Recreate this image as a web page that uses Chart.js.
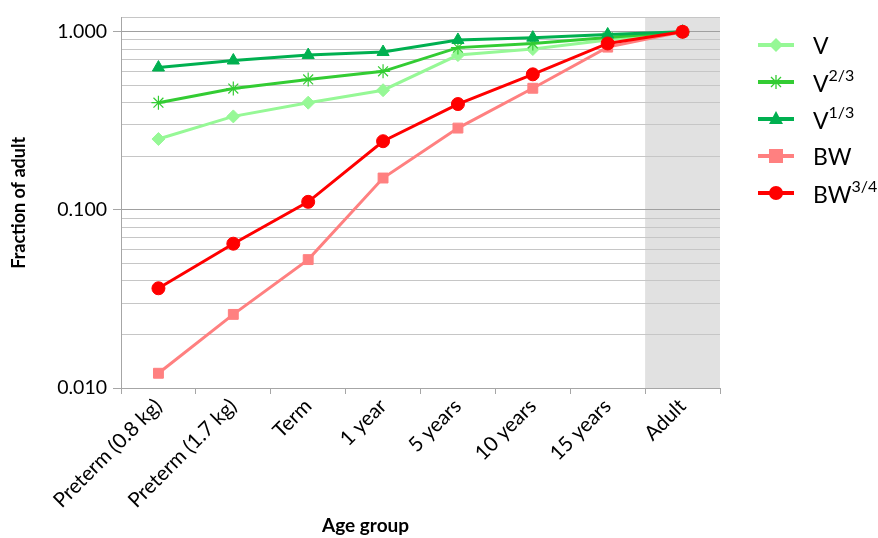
<!DOCTYPE html>
<html>
<head>
<meta charset="utf-8">
<script src="https://cdn.jsdelivr.net/npm/chart.js@4.4.1/dist/chart.umd.min.js"></script>
<style>
  html, body { margin: 0; padding: 0; background: #fff; }
  #wrap { position: relative; width: 878px; height: 538px; }
  #legend { position: absolute; left: 756px; top: 26px; font-family: Lato, "Open Sans", sans-serif; font-size: 23px; color: #000; }
  .item { display: flex; align-items: center; height: 37px; }
  .item svg { margin-right: 17px; }
  .item sup { font-size: 16px; position: relative; top: -2px; }
  #xtitle { position: absolute; left: 322px; top: 513px; font: bold 19px Lato, "Open Sans", sans-serif; color: #000; }
</style>
</head>
<body>
<div id="wrap">
  <canvas id="chart" width="878" height="538"></canvas>
  <div id="legend"></div>
  <div id="xtitle">Age group</div>
</div>
<script>
// categories
const ageGroups = ['Preterm (0.8 kg)', 'Preterm (1.7 kg)', 'Term', '1 year', '5 years', '10 years', '15 years', 'Adult'];
const shadedGroup = 'Adult';

// series (fraction of adult)
const vol      = [0.25, 0.335, 0.40, 0.47, 0.74, 0.80, 0.90, 1.00];
const vol23    = [0.40, 0.48, 0.54, 0.60, 0.815, 0.86, 0.93, 1.00];
const vol13    = [0.63, 0.69, 0.74, 0.77, 0.90, 0.927, 0.966, 1.00];
const bw       = [0.0121, 0.0259, 0.0526, 0.151, 0.288, 0.482, 0.82, 1.00];
const bw34     = [0.0363, 0.0646, 0.111, 0.243, 0.393, 0.577, 0.86, 1.00];

const seriesBase = ['V', 'V', 'V', 'BW', 'BW'];
const seriesSup  = ['', '2/3', '1/3', '', '3/4'];

// y axis ticks (log)
const yMin = 0.01, yMax = 1.2;
const yMajor = [0.01, 0.1, 1];
const yMajorLabels = ['0.010', '0.100', '1.000'];
const yMinor = [0.02, 0.03, 0.04, 0.05, 0.06, 0.07, 0.08, 0.09, 0.2, 0.3, 0.4, 0.5, 0.6, 0.7, 0.8, 0.9];

const FONT = 'Lato, "Open Sans", sans-serif';
const isMajor = v => yMajor.some(m => Math.abs(m - v) < 1e-9);

const shadePlugin = {
  id: 'shade',
  beforeDraw(chart) {
    const { ctx, chartArea, scales } = chart;
    const x = scales.x;
    const idx = ageGroups.indexOf(shadedGroup);
    const half = x.width / ageGroups.length / 2;
    const c = x.getPixelForValue(idx);
    ctx.save();
    ctx.fillStyle = '#E1E1E1';
    ctx.fillRect(c - half, chartArea.top, half * 2, chartArea.bottom - chartArea.top);
    ctx.restore();
  }
};

function ds(label, data, color, style, radius, order, extra) {
  return Object.assign({
    label, data,
    borderColor: color, backgroundColor: color,
    pointBackgroundColor: color, pointBorderColor: color,
    borderWidth: 3, pointStyle: style, pointRadius: radius, pointHoverRadius: radius,
    pointBorderWidth: 1, tension: 0, order
  }, extra || {});
}

const chart = new Chart(document.getElementById('chart'), {
  type: 'line',
  data: {
    labels: ageGroups,
    datasets: [
      ds('V', vol, '#96F896', 'rectRot', 6.5, 5),
      ds('V2/3', vol23, '#33CC33', 'star', 7, 4, { pointBorderWidth: 1.2, pointBackgroundColor: 'transparent' }),
      ds('V1/3', vol13, '#00B050', 'triangle', 7, 3),
      ds('BW', bw, '#FF8080', 'rect', 7, 2),
      ds('BW3/4', bw34, '#FF0000', 'circle', 6.5, 1)
    ]
  },
  options: {
    responsive: false,
    animation: false,
    layout: { padding: { top: 16, right: 158, left: 0, bottom: 0 } },
    plugins: { legend: { display: false }, tooltip: { enabled: false } },
    scales: {
      x: {
        offset: true,
        afterFit(s) { s.height = 150; },
        grid: { offset: true, drawOnChartArea: false, drawTicks: true, tickLength: 6, color: '#A6A6A6' },
        border: { color: '#A6A6A6' },
        ticks: { minRotation: 45, maxRotation: 45, color: '#000', padding: 0, font: { family: FONT, size: 20.5 } }
      },
      y: {
        type: 'logarithmic',
        min: yMin, max: yMax,
        afterFit(s) { s.width = 121; },
        afterBuildTicks(s) {
          s.ticks = [...yMajor, ...yMinor, yMax].sort((a, b) => a - b).map(v => ({ value: v }));
        },
        grid: {
          color: c => isMajor(c.tick.value) ? '#A0A0A0' : '#C6C6C6',
          tickColor: c => isMajor(c.tick.value) ? '#A6A6A6' : 'transparent',
          tickLength: 8
        },
        border: { color: '#A6A6A6' },
        ticks: {
          autoSkip: false,
          padding: 6,
          color: '#000',
          font: { family: FONT, size: 19.5 },
          callback: v => { const i = yMajor.findIndex(m => Math.abs(m - v) < 1e-9); return i >= 0 ? yMajorLabels[i] : ''; }
        },
        title: { display: true, text: 'Fraction of adult', color: '#000', padding: { top: 8, bottom: 0 }, font: { family: FONT, size: 18, weight: 'bold' } }
      }
    }
  },
  plugins: [shadePlugin]
});

// HTML legend (needs superscripts)
function markerSvg(style, color) {
  let m = '';
  if (style === 'rectRot') m = `<polygon points="20,3 27,10 20,17 13,10" fill="${color}"/>`;
  else if (style === 'star') m = `<g stroke="${color}" stroke-width="1.3"><line x1="20" y1="3" x2="20" y2="17"/><line x1="13" y1="10" x2="27" y2="10"/><line x1="15" y1="5" x2="25" y2="15"/><line x1="15" y1="15" x2="25" y2="5"/></g>`;
  else if (style === 'triangle') m = `<polygon points="20,2 27,15 13,15" fill="${color}"/>`;
  else if (style === 'rect') m = `<rect x="13" y="3" width="14" height="14" fill="${color}"/>`;
  else m = `<circle cx="20" cy="10" r="7" fill="${color}"/>`;
  return `<svg width="40" height="20"><line x1="2" y1="10" x2="38" y2="10" stroke="${color}" stroke-width="4"/>${m}</svg>`;
}
const legendEl = document.getElementById('legend');
chart.data.datasets.forEach((d, i) => {
  const row = document.createElement('div');
  row.className = 'item';
  row.innerHTML = markerSvg(d.pointStyle, d.borderColor) +
    `<span>${seriesBase[i]}${seriesSup[i] ? '<sup>' + seriesSup[i] + '</sup>' : ''}</span>`;
  legendEl.appendChild(row);
});
</script>
</body>
</html>
